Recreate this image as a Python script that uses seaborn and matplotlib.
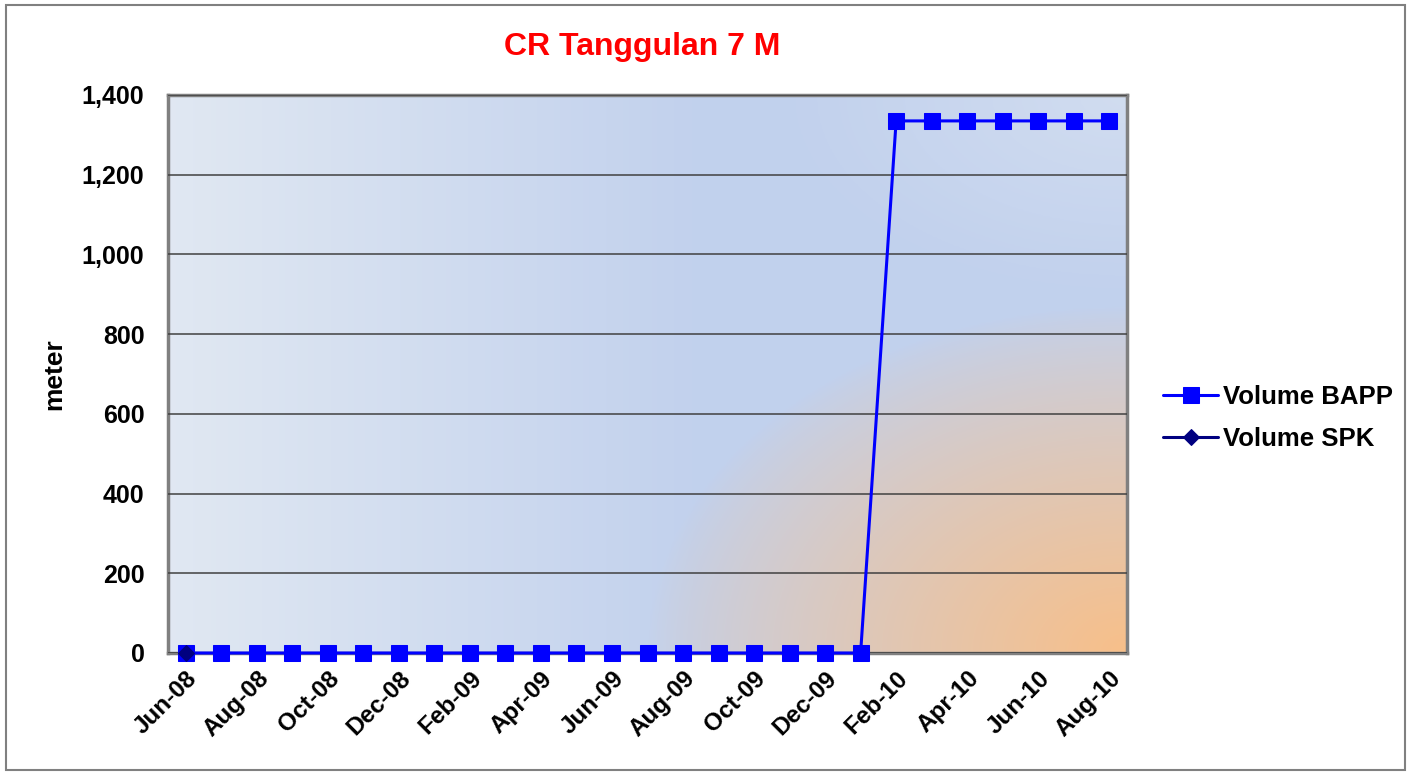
import numpy as np
import pandas as pd
import matplotlib
matplotlib.use("Agg")
import matplotlib.pyplot as plt
import matplotlib.transforms as mtransforms
from matplotlib.patches import Rectangle
import seaborn as sns

# data (monthly, Jun-08 .. Aug-10)
months = ["Jun-08", "Jul-08", "Aug-08", "Sep-08", "Oct-08", "Nov-08", "Dec-08",
          "Jan-09", "Feb-09", "Mar-09", "Apr-09", "May-09", "Jun-09", "Jul-09",
          "Aug-09", "Sep-09", "Oct-09", "Nov-09", "Dec-09", "Jan-10", "Feb-10",
          "Mar-10", "Apr-10", "May-10", "Jun-10", "Jul-10", "Aug-10"]
volume_bapp = [0] * 20 + [1335] * 7
spk_months = ["Jun-08"]
volume_spk = [0]
yticks = [0, 200, 400, 600, 800, 1000, 1200, 1400]

sns.set_theme(style="white")
plt.rcParams["font.family"] = ["Liberation Sans", "DejaVu Sans"]
plt.rcParams["font.weight"] = "bold"
plt.rcParams["text.color"] = "black"
plt.rcParams["xtick.color"] = "black"
plt.rcParams["ytick.color"] = "black"
plt.rcParams["axes.labelcolor"] = "black"

W, H = 1409, 772
fig = plt.figure(figsize=(W / 100, H / 100), dpi=100)
ax = fig.add_axes([168 / W, (H - 653) / H, 959 / W, 558 / H])

# background gradient of the plot area
nx, ny = 400, 240
gx, gy = np.meshgrid(np.linspace(0, 1, nx), np.linspace(0, 1, ny))
light = np.array([0.88, 0.91, 0.95])
blue = np.array([0.76, 0.82, 0.93])
orange = np.array([0.97, 0.75, 0.54])
t = np.clip(gx / 0.55, 0, 1)[..., None]
base = light * (1 - t) + blue * t
# lighten toward top-right a little
tr = np.clip(1 - np.hypot((1 - gx) / 0.35, (1 - gy) / 0.35), 0, 1)[..., None]
base = base * (1 - 0.5 * tr) + light * 0.5 * tr
r = np.hypot((1 - gx) / 0.5, gy / 0.62)
w = (np.clip(1 - r, 0, 1) ** 0.8)[..., None]
img = base * (1 - w) + orange * w
ax.imshow(img, extent=[-0.5, 26.5, 0, 1400], origin="lower", aspect="auto", zorder=0)

x_bapp = np.arange(len(months))
sns.lineplot(x=x_bapp, y=volume_bapp, ax=ax, color="#0000FF", linewidth=2.2,
             marker="s", markersize=11.5, markeredgecolor="#0000FF", zorder=3,
             label="Volume BAPP", clip_on=False)
x_spk = [months.index(m) for m in spk_months]
sns.lineplot(x=x_spk, y=volume_spk, ax=ax, color="#000080", linewidth=2.2,
             marker="D", markersize=8, markeredgecolor="#000080", zorder=4,
             label="Volume SPK", clip_on=False)

ax.set_xlim(-0.5, 26.5)
ax.set_ylim(0, 1400)
ax.set_yticks(yticks)
ax.set_yticklabels([f"{v:,}" for v in yticks], fontsize=18, fontweight="bold")
ax.set_xticks(x_bapp[::2])
ax.set_xticklabels(months[::2], rotation=45, ha="right", rotation_mode="anchor",
                   fontsize=17.5, fontweight="bold")
shift = mtransforms.ScaledTranslation(-6 / 100, 0, fig.dpi_scale_trans)
for lab in ax.get_xticklabels():
    lab.set_transform(lab.get_transform() + shift)
ax.tick_params(axis="y", length=0, pad=17)
ax.tick_params(axis="x", length=0, pad=10)
ax.yaxis.grid(True, color="#404040", linewidth=1.1)
ax.set_axisbelow(False)
for sp in ax.spines.values():
    sp.set_color("#808080")
    sp.set_linewidth(2.5)

ax.set_xlabel("")
ax.set_ylabel("meter", fontsize=19, fontweight="bold", labelpad=11)
fig.text(642 / W, 1 - 47 / H, "CR Tanggulan 7 M", color="#FF0000", fontsize=23,
         fontweight="bold", ha="center", va="center")

leg = ax.legend(loc="center left", bbox_to_anchor=((1163 - 168) / 959, (653 - 418) / 558),
                frameon=False, fontsize=18.5, handlelength=2.15, labelspacing=0.72,
                handletextpad=0.2, borderpad=0, borderaxespad=0)
for txt in leg.get_texts():
    txt.set_fontweight("bold")

fig.patches.append(Rectangle((6 / W, 2 / H), 1399 / W, 765 / H, transform=fig.transFigure,
                             fill=False, edgecolor="#808080", linewidth=1.5))

fig.savefig("out.png", dpi=100)
